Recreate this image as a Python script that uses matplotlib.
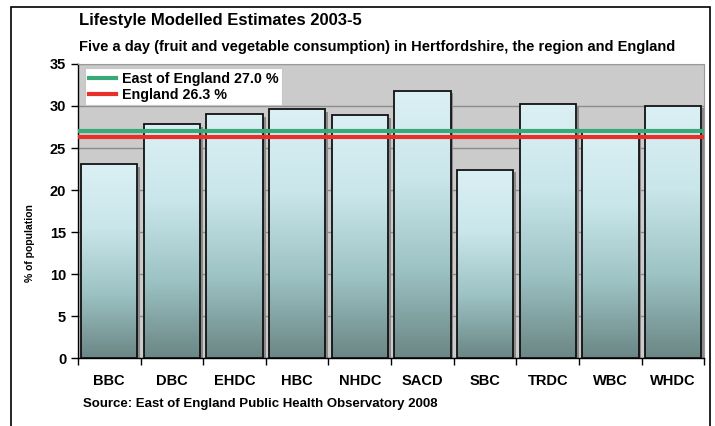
import numpy as np
import matplotlib.pyplot as plt
from matplotlib.colors import LinearSegmentedColormap
from matplotlib.patches import Rectangle

plt.rcParams['font.family'] = ['Liberation Sans', 'DejaVu Sans']
plt.rcParams['font.weight'] = 'bold'

districts = ['BBC', 'DBC', 'EHDC', 'HBC', 'NHDC', 'SACD', 'SBC', 'TRDC', 'WBC', 'WHDC']
five_a_day = [23.1, 27.8, 29.0, 29.6, 28.9, 31.8, 22.4, 30.2, 27.2, 30.0]
east_of_england = 27.0
england = 26.3

fig = plt.figure(figsize=(7.15, 4.26), dpi=100)
ax = fig.add_axes([0.109, 0.159, 0.876, 0.691])
ax.set_facecolor('#cbcbcb')

# vertical fill for each bar: pale cyan at the top, slate teal at the base
grad = LinearSegmentedColormap.from_list('bar', ['#6b8685', '#9dc3c4', '#c9e6ea', '#dbf0f5'])
ramp = np.linspace(0, 1, 256).reshape(-1, 1)
width = 0.9
x = np.arange(len(districts))
for xi, val in zip(x, five_a_day):
    ax.add_patch(Rectangle((xi - width / 2 + 0.045, -0.3), width, val, facecolor='#8a8a8a',
                           edgecolor='none', zorder=2))
    ax.imshow(ramp, extent=[xi - width / 2, xi + width / 2, 0, val], origin='lower',
              aspect='auto', cmap=grad, zorder=3)
ax.bar(x, five_a_day, width=width, facecolor='none', edgecolor='#111111', linewidth=1.3, zorder=4)

ax.axhline(east_of_england, color='#3aa97a', linewidth=3, zorder=5,
           label='East of England %.1f %%' % east_of_england)
ax.axhline(england, color='#e8302a', linewidth=3, zorder=5,
           label='England %.1f %%' % england)

ax.set_xlim(-0.5, len(districts) - 0.5)
ax.set_ylim(0, 35)
ax.set_yticks(np.arange(0, 36, 5))
ax.yaxis.grid(True, color='#8c8c8c', linewidth=1)
ax.set_axisbelow(True)
ax.set_xticks(x)
ax.set_xticklabels(districts, fontsize=10.5, fontweight='bold')
ax.set_xticks(np.arange(-0.5, len(districts), 1), minor=True)
ax.tick_params(axis='x', which='major', length=0, pad=11)
ax.tick_params(axis='x', which='minor', length=5, width=1, color='black')
ax.tick_params(axis='y', length=5, width=1, labelsize=10.5)
for lbl in ax.get_yticklabels():
    lbl.set_fontweight('bold')
for side in ['top', 'right']:
    ax.spines[side].set_color('#9a9a9a')
for side in ['left', 'bottom']:
    ax.spines[side].set_color('black')
    ax.spines[side].set_linewidth(1)

ax.set_ylabel('% of population', fontsize=7.5, fontweight='bold')
ax.yaxis.set_label_coords(-0.068, 0.39)

leg = ax.legend(loc='upper left', bbox_to_anchor=(0.005, 1.0), fontsize=10.3, frameon=True,
                fancybox=False, edgecolor='#c8c8c8', framealpha=1, handlelength=1.9,
                borderpad=0.25, labelspacing=0.15, handletextpad=0.4, borderaxespad=0.3)
for t in leg.get_texts():
    t.set_fontweight('bold')
leg.get_frame().set_linewidth(0.8)
leg.set_zorder(6)

fig.text(0.111, 0.953, 'Lifestyle Modelled Estimates 2003-5', fontsize=12,
         fontweight='bold', va='center')
fig.text(0.111, 0.889, 'Five a day (fruit and vegetable consumption) in Hertfordshire, the region and England',
         fontsize=10.5, fontweight='bold', va='center')
fig.text(0.116, 0.052, 'Source: East of England Public Health Observatory 2008', fontsize=9.5,
         fontweight='bold', va='center')

# outer chart frame
fig.patches.append(Rectangle((0.0155, -0.05), 0.978, 1.034, transform=fig.transFigure,
                             fill=False, edgecolor='black', linewidth=1.2))

fig.savefig('out.png', dpi=100)
